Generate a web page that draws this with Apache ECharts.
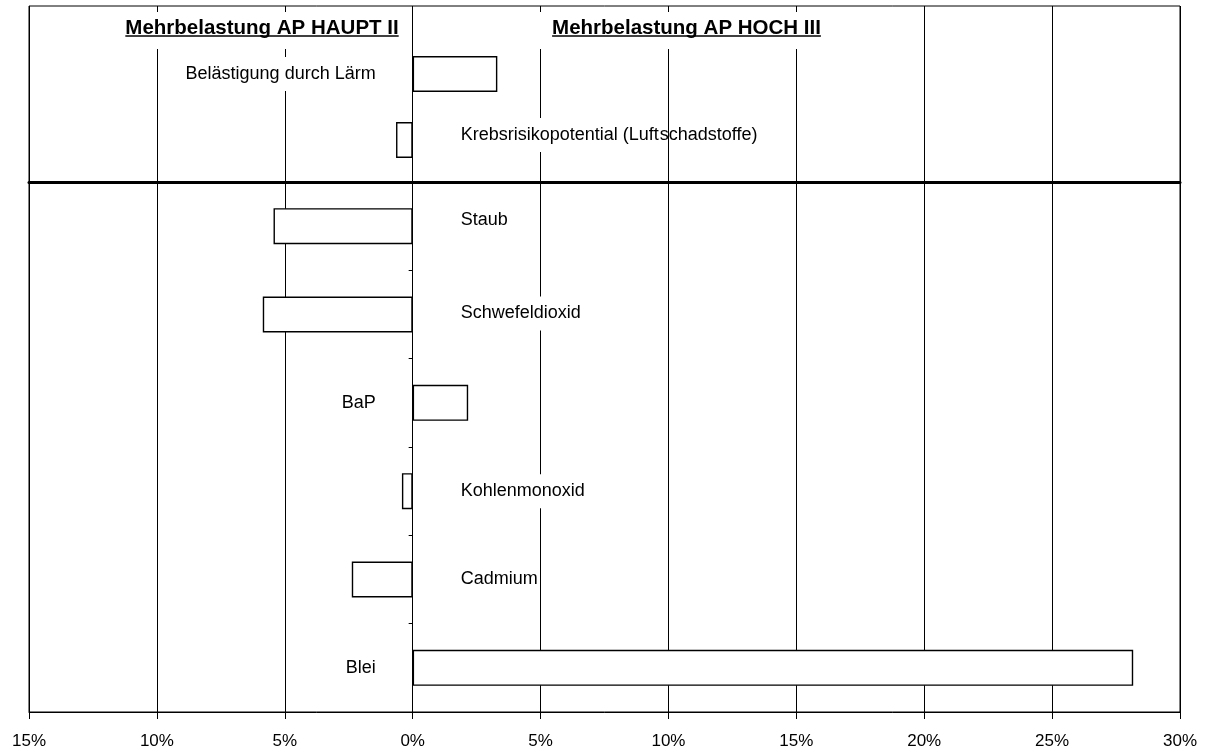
<!DOCTYPE html>
<html>
<head>
<meta charset="utf-8">
<script src="https://cdn.jsdelivr.net/npm/echarts@6/dist/echarts.min.js"></script>
<style>
html,body{margin:0;padding:0;background:#fff;}
#chart{width:1210px;height:753px;}
</style>
</head>
<body>
<div id="chart"></div>
<script>
// ---- data ----
const topCategories = ['Belästigung durch Lärm', 'Krebsrisikopotential (Luftschadstoffe)'];
const topValues = [3.31, -0.65];
const bottomCategories = ['Staub', 'Schwefeldioxid', 'BaP', 'Kohlenmonoxid', 'Cadmium', 'Blei'];
const bottomValues = [-5.44, -5.86, 2.17, -0.42, -2.38, 28.17];
const headings = ['Mehrbelastung AP HAUPT II', 'Mehrbelastung AP HOCH III'];
const xMin = -15, xMax = 30, xStep = 5;

// ---- styling (positions / sizes) ----
const FONT = '"Liberation Sans", Arial, Helvetica, sans-serif';
const topLabelDy = [0, -5];
const bottomLabelDy = [-6, -1, 0, 0, 0, 0];
const headingCenters = [262, 686.5];

function itemsFor(values, dys) {
  return values.map((v, i) => ({
    value: v,
    label: v >= 0
      ? { position: 'left', distance: 36, offset: [0, dys[i]] }
      : { position: 'right', distance: 47, offset: [0, dys[i]] }
  }));
}

const barLabel = {
  show: true, formatter: '{b}', color: '#000', fontSize: 18, fontFamily: FONT,
  backgroundColor: '#fff', padding: [8, 1], lineHeight: 18
};
// the long label: only its first part sits on a white box (as in the original)
const topLabel = {
  show: true, color: '#000', fontSize: 18, fontFamily: FONT, lineHeight: 18,
  formatter: function (p) {
    const name = p.name;
    const cut = name.indexOf('(Luft');
    if (cut < 0) return '{a|' + name + '}';
    return '{a|' + name.slice(0, cut + 5) + '}{b|' + name.slice(cut + 5) + '}';
  },
  rich: {
    a: { color: '#000', fontSize: 18, fontFamily: FONT, lineHeight: 18, backgroundColor: '#fff', padding: [8, 1, 8, 1] },
    b: { color: '#000', fontSize: 18, fontFamily: FONT, lineHeight: 18, padding: [8, 1, 8, 0] }
  }
};
const barItem = { color: '#fff', borderColor: '#000', borderWidth: 1.4 };
const catAxis = (gi, data, showTicks) => ({
  gridIndex: gi, type: 'category', data: data, inverse: true,
  axisLine: { show: true, onZero: true, lineStyle: { color: '#000', width: 1 } },
  axisTick: { show: showTicks, length: 4, lineStyle: { color: '#000' } },
  axisLabel: { show: false }, splitLine: { show: false }
});

const chart = echarts.init(document.getElementById('chart'), null, { renderer: 'canvas' });

// heading graphics (text + white box + underline)
const ctx = document.createElement('canvas').getContext('2d');
const headFont = 'bold 20.5px ' + FONT;
ctx.font = headFont;
const graphics = [];
headings.forEach((t, i) => {
  const w = ctx.measureText(t).width;
  const cx = headingCenters[i];
  graphics.push({ type: 'rect', z: 10, shape: { x: cx - w / 2 - 15, y: 12, width: w + 25, height: 37 }, style: { fill: '#fff' } });
  graphics.push({ type: 'text', z: 11, x: cx, y: 28.5, style: { text: t, font: headFont, fill: '#000', align: 'center', verticalAlign: 'middle', textAlign: 'center', textVerticalAlign: 'middle' } });
  graphics.push({ type: 'rect', z: 11, shape: { x: cx - w / 2, y: 35.3, width: w, height: 1.4 }, style: { fill: '#000' } });
});

const option = {
  animation: false,
  backgroundColor: '#fff',
  textStyle: { fontFamily: FONT },
  grid: [
    { left: 29, right: 30, top: 6, bottom: 41, show: true, borderColor: '#000', borderWidth: 1, backgroundColor: 'transparent' },
    { left: 29, right: 30, top: 41, height: 132 },
    { left: 29, right: 30, top: 182, bottom: 41 }
  ],
  xAxis: [
    {
      gridIndex: 0, type: 'value', min: xMin, max: xMax, interval: xStep,
      splitLine: { show: true, lineStyle: { color: '#000', width: 1 } },
      axisLine: { show: true, lineStyle: { color: '#000', width: 1 } },
      axisTick: { show: true, length: 7, lineStyle: { color: '#000' } },
      axisLabel: { formatter: v => Math.abs(v) + '%', color: '#000', fontSize: 17, margin: 21, fontFamily: FONT }
    },
    { gridIndex: 1, type: 'value', min: xMin, max: xMax, show: false },
    {
      gridIndex: 2, type: 'value', min: xMin, max: xMax, position: 'top',
      axisLine: { show: true, onZero: false, lineStyle: { color: '#000', width: 3 } },
      axisTick: { show: false }, axisLabel: { show: false }, splitLine: { show: false }
    }
  ],
  yAxis: [
    { gridIndex: 0, type: 'value', min: 0, max: 1, show: false },
    catAxis(1, topCategories, false),
    catAxis(2, bottomCategories, true)
  ],
  graphic: graphics,
  series: [
    {
      type: 'bar', xAxisIndex: 1, yAxisIndex: 1, barWidth: 36,
      itemStyle: barItem, label: topLabel,
      data: itemsFor(topValues, topLabelDy)
    },
    {
      type: 'bar', xAxisIndex: 2, yAxisIndex: 2, barWidth: 36,
      itemStyle: barItem, label: barLabel,
      data: itemsFor(bottomValues, bottomLabelDy)
    }
  ]
};
chart.setOption(option);
</script>
</body>
</html>
